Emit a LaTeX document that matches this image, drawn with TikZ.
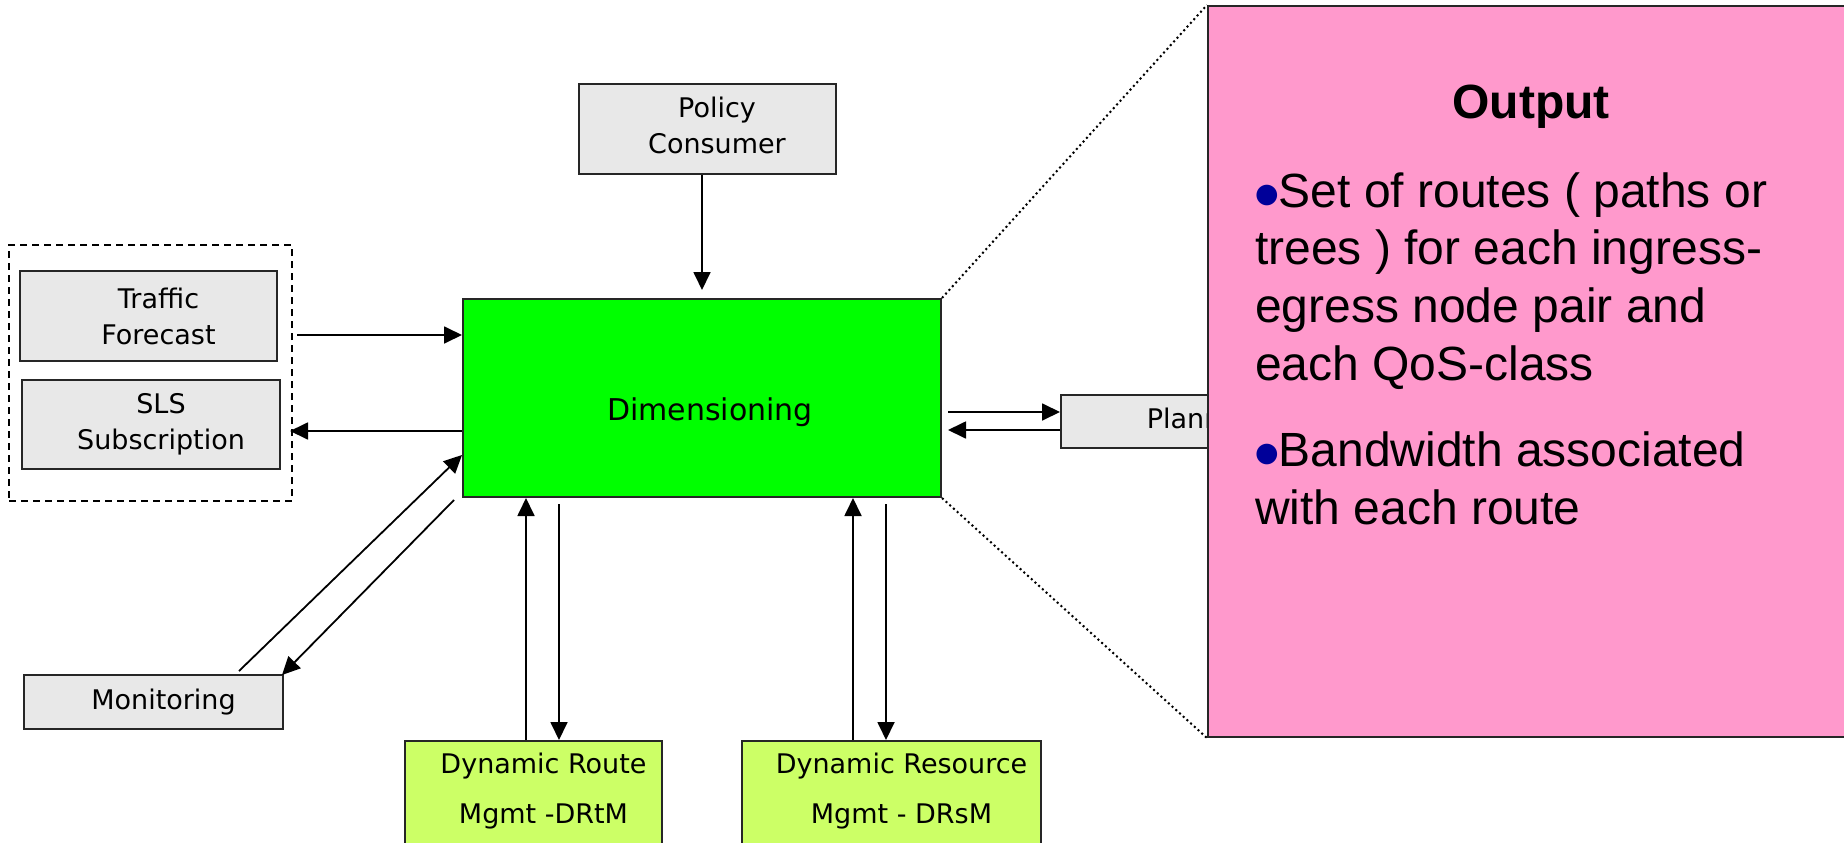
\documentclass[tikz,border=0pt]{standalone}
\usepackage{fontspec}
\usepackage{tikz}
\usetikzlibrary{arrows.meta, positioning}

\newfontfamily\boxfont{DejaVu Sans}
\newfontfamily\outfont{Liberation Sans}

\definecolor{boxgray}{HTML}{E8E8E8}
\definecolor{dimgreen}{HTML}{00FF00}
\definecolor{mgmtgreen}{HTML}{CCFF66}
\definecolor{outpink}{HTML}{FF99CC}
\definecolor{bulletblue}{HTML}{000099}

\newcommand{\outbullet}{\raisebox{5pt}{\boxfont\fontsize{27}{27}\selectfont\textcolor{bulletblue}{●}}}

\tikzset{
  box/.style={draw=black!85, line width=2pt, fill=boxgray, inner sep=0pt},
  lbl/.style={align=center, xshift=10pt, font=\boxfont\fontsize{27}{36}\selectfont},
  arr/.style={line width=1.8pt, -{Triangle[length=18pt,width=17pt]}},
  dots/.style={line width=2pt, dash pattern=on 2pt off 3pt},
  item/.style={align=left, inner sep=0pt, font=\outfont\fontsize{48}{57.6}\selectfont}
}

\begin{document}
\begin{tikzpicture}[x=1pt, y=-1pt]
\clip (0,0) rectangle (1844,843);

% inputs on the left
\node[draw, line width=2pt, dash pattern=on 7pt off 5pt,
      minimum width=283pt, minimum height=256pt] (group) at (150.5,373) {};
\node[box, minimum width=257pt, minimum height=90pt,
      label={[lbl]center:{Traffic\\Forecast}}] (traffic) at (148.5,316) {};
\node[box, minimum width=258pt, minimum height=89pt,
      label={[lbl]center:{SLS\\Subscription}}] (sls) at (151,424.5) {};
\node[box, minimum width=259pt, minimum height=54pt,
      label={[lbl]center:Monitoring}] (monitor) at (153.5,702) {};

% top and centre
\node[box, minimum width=257pt, minimum height=90pt,
      label={[lbl, yshift=4pt]center:{Policy\\Consumer}}] (policy) at (707,129) {};
\node[box, fill=dimgreen, minimum width=478pt, minimum height=198pt,
      label={[lbl, xshift=-2pt, yshift=-14pt, font=\boxfont\fontsize{30}{36}\selectfont]center:Dimensioning}] (dim) at (702,398) {};

% bottom
\node[box, fill=mgmtgreen, minimum width=257pt, minimum height=112pt,
      label={[lbl, yshift=6pt, font=\boxfont\fontsize{27}{50}\selectfont]center:{Dynamic Route\\Mgmt -DRtM}}] (route) at (533.5,797) {};
\node[box, fill=mgmtgreen, minimum width=299pt, minimum height=112pt,
      label={[lbl, yshift=6pt, font=\boxfont\fontsize{27}{50}\selectfont]center:{Dynamic Resource\\Mgmt - DRsM}}] (resource) at (891.5,797) {};

% right
\node[box, minimum width=268pt, minimum height=53pt,
      label={[lbl]center:Planning}] (plan) at (1195,421.5) {};

% connectors
\draw[arr, shorten >=8pt] (dim.north |- policy.south) -- (dim.north);

\coordinate (tf) at ([yshift=63pt]dim.west);
\draw[arr, shorten <=4pt] (tf -| group.east) -- (tf);
\coordinate (ss) at ([yshift=-33pt]dim.west);
\draw[arr, shorten >=-3pt] (ss) -- (ss -| group.east);

\draw[arr] ([xshift=85.5pt,yshift=3pt]monitor.north) -- ([yshift=-57pt]dim.west);
\draw[arr] ([xshift=-8pt,yshift=-2pt]dim.south west) -- ([xshift=-2pt,yshift=-1pt]monitor.north east);

\foreach \m/\u/\d in {route/-7.5/25.5, resource/-38.5/-5.5} {
  \coordinate (up) at ([xshift=\u pt]\m.north);
  \coordinate (dn) at ([xshift=\d pt]\m.north);
  \draw[arr] (up) -- (up |- dim.south);
  \draw[arr, shorten <=6pt] (dn |- dim.south) -- (dn);
}

\coordinate (p1) at ([yshift=9.5pt]plan.west);
\draw[arr, shorten <=6pt] (p1 -| dim.east) -- (p1);
\coordinate (p2) at ([yshift=-8.5pt]plan.west);
\draw[arr, shorten >=6pt] (p2) -- (p2 -| dim.east);

% output callout
\node[draw=black!85, line width=2pt, fill=outpink,
      minimum width=652pt, minimum height=731pt] (out) at (1534,371.5) {};
\draw[dots] (dim.north east) -- (out.north west);
\draw[dots] (dim.south east) -- (out.south west);

\node[font=\outfont\bfseries\fontsize{48}{58}\selectfont, anchor=base] (title) at (1531,118) {Output};
% base anchor sits on the last line
\node[item, anchor=base west] (item1) at (1255,380)
  {\outbullet Set of routes ( paths or\\trees ) for each ingress-\\egress node pair and\\each QoS-class};
\node[item, anchor=base west] (item2) at (1255,524)
  {\outbullet Bandwidth associated\\with each route};
\end{tikzpicture}
\end{document}
